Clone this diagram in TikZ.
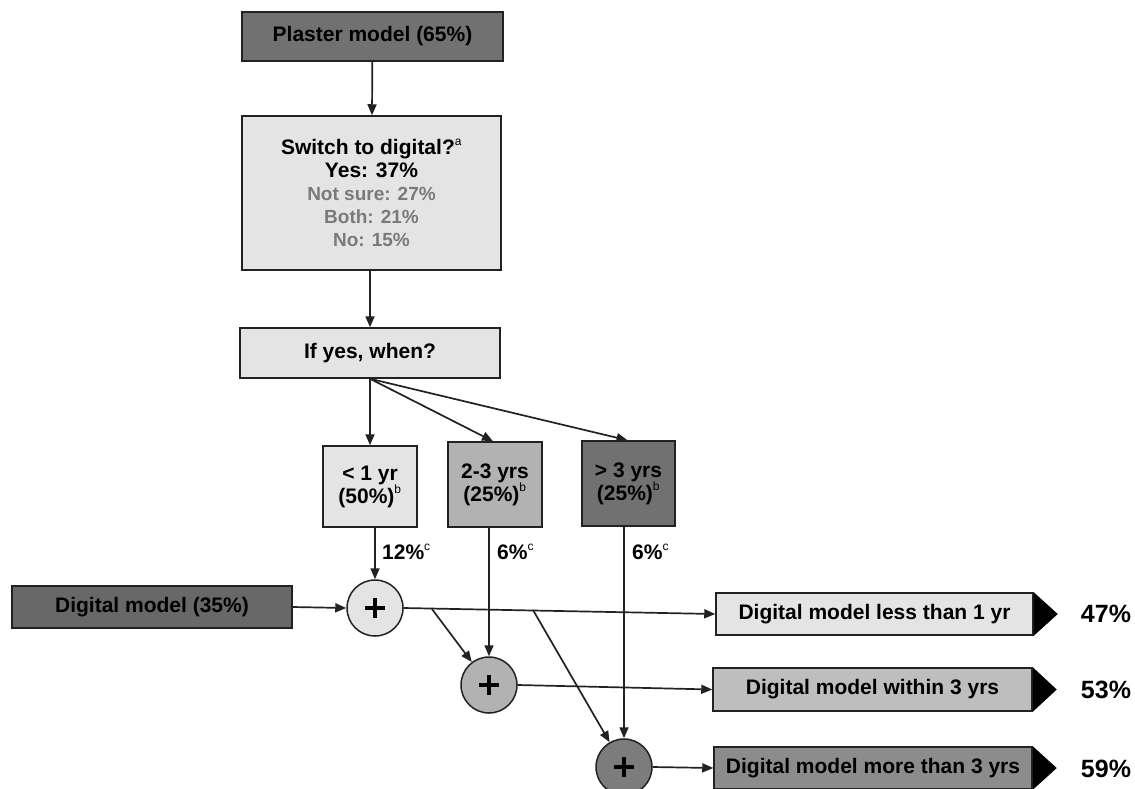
\documentclass[tikz,border=0pt]{standalone}
\usepackage{fontspec}
\setmainfont{Liberation Sans}
\usetikzlibrary{arrows.meta}
\definecolor{lightg}{HTML}{E4E4E4}
\definecolor{midg}{HTML}{B2B2B2}
\definecolor{darkg}{HTML}{717171}
\definecolor{rmid}{HTML}{BEBEBE}
\definecolor{rdark}{HTML}{8C8C8C}
\definecolor{cdark}{HTML}{7C7C7C}
\definecolor{txtgray}{HTML}{7A7A7A}
\definecolor{edge}{HTML}{222222}
\newcommand\sps[1]{\textsuperscript{\mdseries\fontsize{12}{12}\selectfont\raisebox{2pt}{#1}}}
\begin{document}
\begin{tikzpicture}[x=1pt,y=-1pt,
  box/.style={draw=edge,line width=1.5pt,inner sep=0pt,align=center,
    font=\bfseries\fontsize{21}{23}\selectfont},
  circ/.style={circle,draw=edge,line width=1.5pt,minimum size=56pt,inner sep=0pt,
    path picture={
      \draw[line width=4.6pt,black]
        ([xshift=-10pt]path picture bounding box.center) -- ([xshift=10pt]path picture bounding box.center)
        ([yshift=-10pt]path picture bounding box.center) -- ([yshift=10pt]path picture bounding box.center);}},
  arr/.style={-{Triangle[length=11pt,width=9pt]},line width=1.7pt,draw=edge},
  lab/.style={anchor=west,inner sep=0pt,font=\bfseries\fontsize{21}{23}\selectfont},
  pct/.style={inner sep=0pt,font=\bfseries\fontsize{25}{25}\selectfont},
  tip/.style={fill=black}]
\useasboundingbox (0,0) rectangle (1135,788);
\fill[white] (0,0) rectangle (1135,788);
\clip (0,0) rectangle (1135,788);

% top part
\node[box,fill=darkg,minimum width=261pt,minimum height=49pt] (plaster) at (372.5,36.5) {Plaster model (65\%)};
\node[box,fill=lightg,minimum width=259pt,minimum height=154pt] (switch) at (371.5,193)
  {Switch to digital?\sps{a}\\
   Yes: 37\%\\
   {\color{txtgray}\fontsize{19}{22}\selectfont Not sure: 27\%}\\
   {\color{txtgray}\fontsize{19}{22}\selectfont Both: 21\%}\\
   {\color{txtgray}\fontsize{19}{22}\selectfont No: 15\%}};
\node[box,fill=lightg,minimum width=260pt,minimum height=50pt] (ifyes) at (370,353) {If yes, when?};

% timing boxes
\node[box,fill=lightg,minimum width=94pt,minimum height=81pt] (b1) at (370,486.5) {< 1 yr\\(50\%)\sps{b}};
\node[box,fill=midg,minimum width=94pt,minimum height=85pt] (b2) at (495,484.5) {2-3 yrs\\(25\%)\sps{b}};
\node[box,fill=darkg,minimum width=93pt,minimum height=85pt] (b3) at (628.5,483.5) {> 3 yrs\\(25\%)\sps{b}};

% digital model and adders
\node[box,fill=darkg!92!black,minimum width=280pt,minimum height=42pt] (dm) at (152,607) {Digital model (35\%)};
\node[circ,fill=lightg] (c1) at (375,608) {};
\node[circ,fill=midg] (c2) at (489,685) {};
\node[circ,fill=cdark] (c3) at (624,767) {};

% result boxes
\node[box,fill=lightg,minimum width=317pt,minimum height=42pt] (r1) at (874.5,614) {Digital model less than 1 yr};
\node[box,fill=rmid,minimum width=319pt,minimum height=43pt] (r2) at (872.5,689.5) {Digital model within 3 yrs};
\node[box,fill=rdark,minimum width=318pt,minimum height=42pt] (r3) at (873,768) {Digital model more than 3 yrs};
\foreach \r in {r1,r2,r3}{
  \fill[tip] (\r.north east) -- ([xshift=24pt]\r.east) -- (\r.south east) -- cycle;
}
\node[pct] (p1) at (1106,614) {47\%};
\node[pct] (p2) at (1106,690) {53\%};
\node[pct] (p3) at (1106,769) {59\%};

% connectors
\draw[arr] (plaster) -- (switch);
\draw[arr] (switch.south -| ifyes.south) -- (ifyes.north);
\draw[arr] (ifyes.south) -- (b1.north);
\draw[arr] (ifyes.south) -- ([xshift=-2pt]b2.north);
\draw[arr] (ifyes.south) -- ([xshift=-1pt]b3.north);

\draw[arr] (c1 |- b1.south) -- (c1.north);
\draw[arr] (c2 |- b2.south) -- (c2.north);
\draw[arr] (c3 |- b3.south) -- (c3.north);
\node[lab] (l1) at (382,552) {12\%\sps{c}};
\node[lab] (l2) at (497,552) {6\%\sps{c}};
\node[lab] (l3) at (632,552) {6\%\sps{c}};

\draw[arr] (dm.east) -- (c1.west);
\draw[arr] (c1.east) -- (r1.west);
\draw[arr] (c2.east) -- (r2.west);
\draw[arr] (c3.east) -- (r3.west);

\coordinate (br1) at (432,609);
\coordinate (br2) at (533,610);
\draw[arr] (br1) -- (c2);
\draw[arr] (br2) -- (c3);
\end{tikzpicture}
\end{document}
